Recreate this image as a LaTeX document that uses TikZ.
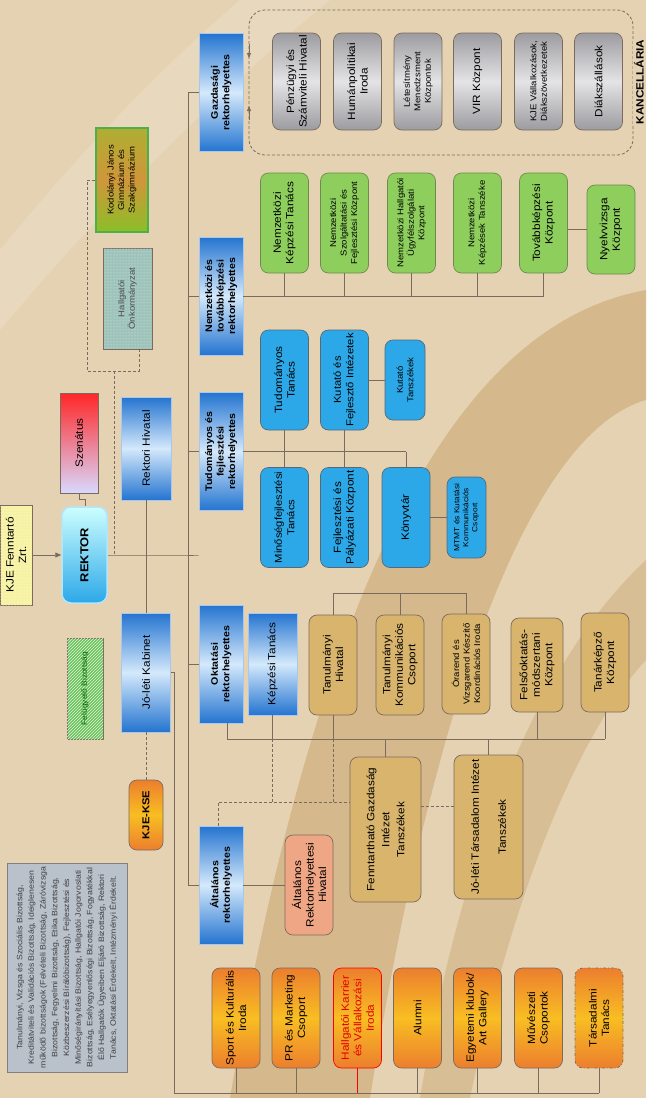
\documentclass[tikz,border=0pt]{standalone}
\usepackage{fontspec}
\setmainfont{Liberation Sans}[FakeStretch=1.12]
\usetikzlibrary{arrows.meta,patterns}

\definecolor{bg}{HTML}{E5D2B2}
\definecolor{band}{HTML}{CDAB78}
\definecolor{lnk}{HTML}{7B6B5E}
\definecolor{rhblue}{HTML}{2474D0}
\definecolor{rhlight}{HTML}{D4E9FB}
\definecolor{cyanfill}{HTML}{2CA8E8}
\definecolor{cyanline}{HTML}{56697A}
\definecolor{greenfill}{HTML}{8DCE5C}
\definecolor{greenline}{HTML}{6D8C4E}
\definecolor{greyend}{HTML}{9C9CA0}
\definecolor{greymid}{HTML}{E4E4E6}
\definecolor{tanfill}{HTML}{D8B46C}
\definecolor{orend}{HTML}{EC7E2E}
\definecolor{ormid}{HTML}{F8BE22}
\definecolor{salmon}{HTML}{EFA684}
\definecolor{comm}{HTML}{B9C1CB}
\definecolor{paleyel}{HTML}{F6F2A2}
\definecolor{teal}{HTML}{9DC3BA}
\definecolor{stripe}{HTML}{6CC35A}
\definecolor{oliveend}{HTML}{AEAE32}
\definecolor{olivemid}{HTML}{D0963A}

\tikzset{
  base/.style={rotate=90, align=center, inner sep=1pt, draw=lnk, line width=0.7pt},
  rh/.style={base, draw=rhblue!40!white, top color=rhblue, bottom color=rhblue, middle color=rhlight,
    minimum width=118pt, minimum height=44pt, font=\bfseries\fontsize{9.5}{11.5}\selectfont},
  rhbox/.style={rh, font=\fontsize{10.5}{12.5}\selectfont},
  unitbox/.style={base, rounded corners=8pt, minimum width=100pt, minimum height=48pt,
    font=\fontsize{10.5}{12.5}\selectfont},
  cyanbox/.style={unitbox, fill=cyanfill, draw=cyanline},
  greenbox/.style={unitbox, fill=greenfill, draw=greenline},
  greybox/.style={unitbox, minimum width=97pt, top color=greyend, bottom color=greyend, middle color=greymid},
  tanbox/.style={unitbox, fill=tanfill},
  orangebox/.style={unitbox, top color=orend, bottom color=orend, middle color=ormid},
  smalltxt/.style={font=\fontsize{8.5}{10.5}\selectfont},
  link/.style={draw=lnk, line width=0.8pt},
  dlink/.style={link, dash pattern=on 3pt off 2pt},
}

\begin{document}
\begin{tikzpicture}[x=1pt,y=-1pt]
  % background
  \useasboundingbox (0,0) rectangle (646,1098);
  \fill[bg] (0,0) rectangle (646,1098);
  \fill[white, opacity=0.15] (0,250) .. controls (90,140) and (170,60) .. (240,0) -- (330,0) .. controls (220,90) and (110,200) .. (0,330) -- cycle;
  \fill[band, opacity=0.65] (646,290) .. controls (480,320) and (330,520) .. (230,1098) -- (370,1098) .. controls (440,660) and (540,430) .. (646,400) -- cycle;
  \fill[band, opacity=0.5] (646,560) .. controls (560,640) and (470,800) .. (420,1098) -- (470,1098) .. controls (520,860) and (590,720) .. (646,660) -- cycle;

  % rektorhelyettesek
  \node[rh] (gazd) at (221,92.5) {Gazdasági\\rektorhelyettes};
  \node[rh] (nemz) at (221,296) {Nemzetközi és\\továbbképzési\\rektorhelyettes};
  \node[rh] (tud) at (221,451.5) {Tudományos és\\fejlesztési\\rektorhelyettes};
  \node[rh] (okt) at (221,664) {Oktatási\\rektorhelyettes};
  \node[rh] (alt) at (221,885) {Általános\\rektorhelyettes};

  % kancellaria
  \draw[dlink, rounded corners=16pt] (249,10) rectangle (633,155);
  \draw[lnk, line width=0.8pt, -{Triangle[length=5pt,width=4pt]}] (249,44) -- (249,58);
  \draw[lnk, line width=0.8pt, -{Triangle[length=5pt,width=4pt]}] (249,120) -- (249,106);
  \node[rotate=90, fill=bg, inner sep=1pt, font=\bfseries\fontsize{10.5}{13}\selectfont] (kanc) at (639,82) {KANCELLÁRIA};
  \node[greybox] (penz) at (296.5,81.5) {Pénzügyi és\\Számviteli Hivatal};
  \node[greybox] (human) at (357.5,81.5) {Humánpolitikai\\Iroda};
  \node[greybox, smalltxt] (letes) at (418,81.5) {Létesítmény\\Menedzsment\\Központok};
  \node[greybox] (vir) at (477.5,81.5) {VIR Központ};
  \node[greybox, smalltxt] (vall) at (538.5,81.5) {KJE Vállalkozások,\\Diákszövetkezetek};
  \node[greybox] (diak) at (598.5,81.5) {Diákszállások};

  % nemzetkozi
  \node[greenbox] (nkt) at (284.5,223) {Nemzetközi\\Képzési Tanács};
  \node[greenbox, smalltxt] (nszf) at (344.5,223) {Nemzetközi\\Szolgáltatási és\\Fejlesztési Központ};
  \node[greenbox, smalltxt] (nhu) at (411.5,223) {Nemzetközi Hallgatói\\Ügyfélszolgálati\\Központ};
  \node[greenbox, smalltxt] (nkts) at (477.5,223) {Nemzetközi\\Képzések Tanszéke};
  \node[greenbox] (tovabb) at (543.5,223) {Továbbképzési\\Központ};
  \node[greenbox, minimum width=89pt] (nyelv) at (611,229.5) {Nyelvvizsga\\Központ};
  \draw[link] (nemz.south) -- (nemz.south -| tovabb);
  \foreach \n in {nkt,nszf,nhu,nkts,tovabb}
    \draw[link] (\n.west) -- (\n.west |- nemz.south);
  \draw[link] (nyelv.north) -- (nyelv.north -| tovabb.south);

  % tudomanyos
  \node[cyanbox] (tudtan) at (284.5,380) {Tudományos\\Tanács};
  \node[cyanbox, font=\fontsize{10}{12.5}\selectfont] (kutint) at (344.5,380) {Kutató és\\Fejlesztő Intézetek};
  \node[cyanbox, smalltxt, minimum width=80pt, minimum height=40pt] (kuttsz) at (405,380) {Kutató\\Tanszékek};
  \node[cyanbox, font=\fontsize{10}{12.5}\selectfont] (minos) at (284.5,517.5) {Minőségfejlesztési\\Tanács};
  \node[cyanbox] (fejpal) at (344.5,517.5) {Fejlesztési és\\Pályázati Központ};
  \node[cyanbox] (konyv) at (406,517.5) {Könyvtár};
  \node[cyanbox, font=\fontsize{7.5}{9}\selectfont, minimum width=81pt, minimum height=39pt] (mtmt) at (466.5,517.5) {MTMT és Kutatási\\Kommunikációs\\Csoport};
  \draw[link] (tud.south) -- (tud.south -| konyv);
  \draw[link] (konyv.east) -- (konyv.east |- tud.south);
  \draw[link] (tudtan.west) -- (minos.east);
  \draw[link] (kutint.west) -- (fejpal.east);
  \draw[link] (kutint.south) -- (kuttsz.north);
  \draw[link] (konyv.south) -- (mtmt.north);

  % rektor
  \node[base, minimum width=100pt, minimum height=38pt, top color=red!85!white, bottom color=blue!15!white, font=\fontsize{10.5}{12}\selectfont] (szen) at (79,443) {Szenátus};
  \node[base, rounded corners=9pt, draw=cyan!30!white, line width=1.5pt, minimum width=96pt, minimum height=45pt, top color=cyan!20!white, bottom color=cyanfill, font=\bfseries\fontsize{11.5}{13}\selectfont] (rektor) at (84.5,555) {REKTOR};
  \node[base, minimum width=100pt, minimum height=32pt, fill=paleyel, postaction={pattern=dots, pattern color=white}, font=\fontsize{10.5}{12.5}\selectfont] (kjef) at (16,555) {KJE Fenntartó\\Zrt.};
  \draw[link, -{Triangle[length=6pt,width=5pt]}] (kjef.south) -- (rektor.north);
  \coordinate (sr) at (85,499);
  \draw[link] (szen.west) |- (sr) -- (sr |- rektor.east);
  \node[rhbox, minimum width=103pt, minimum height=50pt] (rhiv) at (146,448.5) {Rektori Hivatal};
  \node[rhbox, minimum width=119pt, minimum height=49pt] (kabinet) at (146,672.5) {Jó-léti Kabinet};
  \draw[link] (rektor.south) -- (rektor.south -| gazd.north) -- ++(-11,0);
  \draw[link] (188,92.5) -- (188,885);
  \foreach \n in {gazd,nemz,tud,okt,alt}
    \draw[link] (\n.north) -- ++(-11,0);
  \draw[link] (rhiv.west) -- (kabinet.east);

  % hallgatoi onkormanyzat, kodolanyi
  \node[base, minimum width=101pt, minimum height=49pt, fill=teal, postaction={pattern=dots, pattern color=white!70!teal}, text=black!70, smalltxt] (onk) at (127.5,298.5) {Hallgatói\\Önkormányzat};
  \node[base, minimum width=104pt, minimum height=52pt, draw=green!55!black!70!white, line width=2.5pt, top color=oliveend, bottom color=oliveend!80!green, middle color=olivemid, smalltxt] (kodol) at (122,180) {Kodolányi János\\Gimnázium és\\Szakgimnázium};
  \coordinate (dj) at (87,371);
  \coordinate (dk) at (139,371);
  \coordinate (dm) at (114,371);
  \draw[dlink] (kodol.north) -| (dj) -- (dk) -- (dk |- onk.west);
  \draw[dlink] (dm) -- (dm |- rektor.south);

  % felugyelo, kje-kse, bizottsagok
  \node[base, minimum width=101pt, minimum height=36pt, fill=stripe, postaction={pattern=north east lines, pattern color=white!80!stripe}, text=green!40!black, font=\fontsize{7.5}{8.5}\selectfont] (felugy) at (85,688.5) {Felügyelő Bizottság};
  \node[orangebox, minimum width=70pt, minimum height=34pt, font=\bfseries\fontsize{10}{11}\selectfont] (kjekse) at (146,815) {KJE-KSE};
  \draw[dlink] (kabinet.west) -- (kjekse.east);
  \node[base, minimum width=209pt, minimum height=120pt, fill=comm, draw=gray, text=black!75, font=\fontsize{7.8}{11.7}\selectfont] (bizott) at (67,967.5) {Tanulmányi, Vizsga és Szociális Bizottság,\\Kreditátviteli és Validációs Bizottság, Ideiglenesen\\működő bizottságok (Felvételi Bizottság, Záróvizsga\\Bizottság, Fegyelmi Bizottság, Etika Bizottság,\\Közbeszerzési Bírálóbizottság), Fejlesztési és\\Minőségirányítási Bizottság, Hallgatói Jogorvoslati\\Bizottság, Esélyegyenlőségi Bizottság, Fogyatékkal\\Élő Hallgatók Ügyeiben Eljáró Bizottság, Rektori\\Tanács, Oktatási Érdekelt, Intézményi Érdekelt.};

  % oktatasi
  \node[rhbox, minimum width=102pt, minimum height=49pt] (keptan) at (272.5,664) {Képzési Tanács};
  \node[tanbox] (tanhiv) at (333,665) {Tanulmányi\\Hivatal};
  \node[tanbox] (tankom) at (400,665) {Tanulmányi\\Kommunikációs\\Csoport};
  \node[tanbox, smalltxt] (orar) at (466,664) {Órarend és\\Vizsgarend Készítő\\Koordinációs Iroda};
  \node[tanbox, minimum width=94pt, minimum height=52pt] (felso) at (537,665) {Felsőoktatás-\\módszertani\\Központ};
  \node[tanbox, minimum width=99pt] (tanark) at (605,662.5) {Tanárképző\\Központ};
  \node[tanbox, minimum width=145pt, minimum height=71pt, font=\fontsize{10.5}{15}\selectfont] (fennt) at (385.5,829.5) {Fenntartható Gazdaság\\Intézet\\Tanszékek};
  \node[tanbox, minimum width=144pt, minimum height=69pt, font=\fontsize{10.5}{15}\selectfont] (jolt) at (488.5,827) {Jó-léti Társadalom Intézet\\[12pt]Tanszékek};
  \coordinate (tbus) at (333,593);
  \draw[link] (tanhiv.east) -- (tbus) -| (orar.east);
  \draw[link] (tankom.east) -- (tankom.east |- tbus);
  \coordinate (bbus) at (227,739);
  \draw[link] (okt.west -| bbus) -- (bbus) -- (bbus -| tanark);
  \foreach \n in {keptan,tanhiv,felso,tanark}
    \draw[link] (\n.west) -- (\n.west |- bbus);
  \draw[link] (bbus -| fennt) -- (fennt.east);
  \draw[link] (bbus -| jolt) -- (jolt.east);
  \coordinate (dd) at (218,802);
  \draw[dlink] (alt.east -| dd) -- (dd) -- (dd -| fennt.north);
  \draw[dlink] (keptan.west |- bbus) -- (keptan.west |- dd);
  \draw[dlink] (tanhiv.west |- bbus) -- (tanhiv.west |- dd);
  \coordinate (fj) at (0,806);
  \draw[dlink] (fennt.south |- fj) -- (jolt.north |- fj);

  % altalanos
  \node[unitbox, fill=salmon] (althiv) at (309,885) {Általános\\Rektorhelyettesi\\Hivatal};
  \draw[link] (alt.south) -- (althiv.north);

  % kabinet egysegei
  \node[orangebox] (sport) at (236,1018) {Sport és Kulturális\\Iroda};
  \node[orangebox] (pr) at (296,1018) {PR és Marketing\\Csoport};
  \node[orangebox, draw=red, text=red!90!black] (karrier) at (357.5,1018) {Hallgatói Karrier\\és Vállalkozási\\Iroda};
  \node[orangebox] (alumni) at (417.5,1018) {Alumni};
  \node[orangebox] (klub) at (477.5,1018) {Egyetemi klubok/\\Art Gallery};
  \node[orangebox] (muv) at (538.5,1018) {Művészeti\\Csoportok};
  \node[orangebox, dash dot] (tars) at (599,1018) {Társadalmi\\Tanács};
  \coordinate (obus) at (174,1093);
  \draw[link] (kabinet.south) -| (obus) -- (obus -| tars);
  \foreach \n in {sport,pr,alumni,klub,muv,tars}
    \draw[link] (\n.west) -- (\n.west |- obus);
  \draw[link, draw=red] (karrier.west) -- (karrier.west |- obus);
\end{tikzpicture}
\end{document}
